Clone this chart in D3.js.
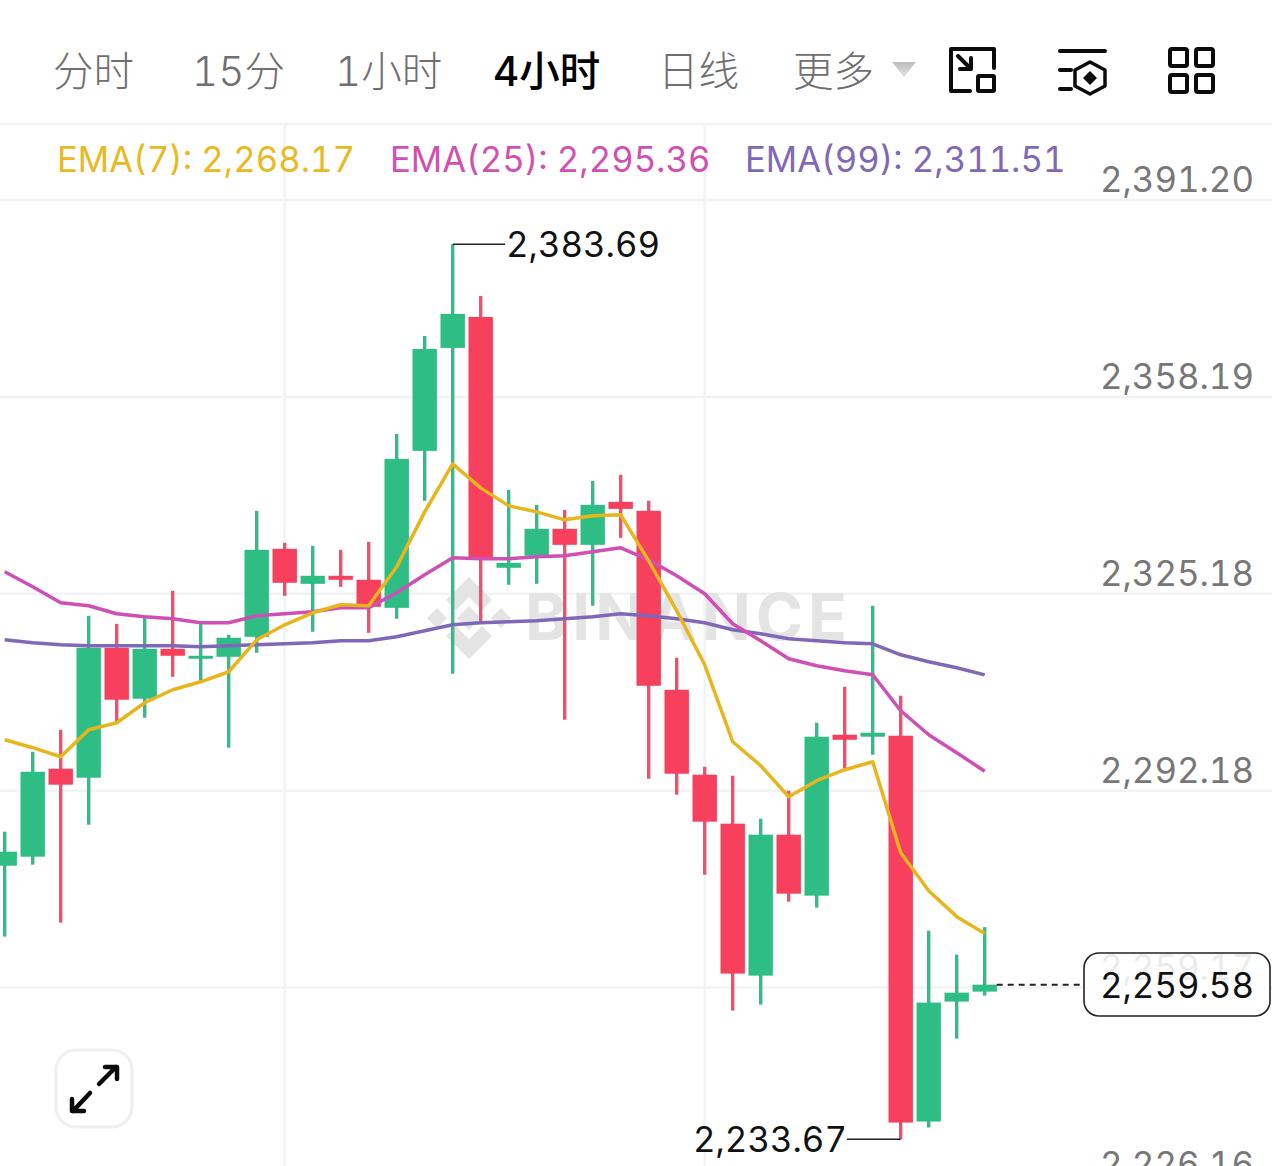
<!DOCTYPE html>
<html>
<head>
<meta charset="utf-8">
<script src="https://cdn.jsdelivr.net/npm/d3@7/dist/d3.min.js"></script>
<style>
html,body{margin:0;padding:0;background:#fff;overflow:hidden}
svg{display:block}
text{font-family:"Inter","Noto Sans CJK SC",sans-serif;font-variant-numeric:tabular-nums;font-feature-settings:"tnum" 1}
</style>
</head>
<body>
<div id="chart"></div>
<script>
const tabs = ["分时","15分","1小时","4小时","日线","更多"];
const activeTab = "4小时";
const tickPrices = [2391.20,2358.19,2325.18,2292.18,2259.17,2226.16];
const highs = [2285.22,2298.62,2302.31,2321.41,2320.07,2321.08,2325.60,2320.07,2318.23,2339.01,2333.64,2333.14,2332.47,2333.81,2351.91,2368.33,2383.69,2375.03,2342.53,2340.01,2339.17,2344.03,2345.04,2340.68,2314.38,2296.11,2294.60,2287.40,2292.09,2303.48,2309.52,2323.09,2308.01,2268.63,2264.61,2269.22];
const lows = [2267.63,2279.69,2269.97,2286.39,2303.65,2304.32,2311.19,2310.35,2299.30,2315.21,2324.76,2318.73,2326.27,2318.56,2320.91,2340.68,2311.69,2320.24,2326.61,2326.77,2303.99,2323.09,2334.48,2294.10,2291.42,2278.01,2255.23,2256.23,2273.49,2272.49,2295.61,2298.12,2233.67,2235.63,2250.54,2257.74];
const opens = [2279.52,2281.03,2295.78,2294.27,2316.05,2307.51,2315.88,2314.21,2314.54,2317.89,2332.64,2326.77,2328.12,2327.45,2322.75,2349.06,2366.32,2371.51,2329.46,2331.47,2335.99,2333.31,2340.51,2339.01,2309.01,2294.77,2286.56,2261.09,2284.72,2274.50,2301.47,2301.14,2301.31,2236.63,2256.74,2258.41];
const closes = [2281.87,2295.27,2293.10,2316.05,2307.34,2315.88,2314.71,2314.71,2317.73,2332.47,2326.94,2328.12,2327.45,2322.92,2347.72,2366.15,2372.02,2330.80,2330.29,2335.99,2333.31,2340.01,2339.34,2309.68,2294.94,2286.90,2261.43,2284.72,2274.83,2301.14,2300.63,2301.81,2236.46,2256.57,2258.24,2259.58];
const ema7 = [2300.63,2299.30,2297.79,2302.31,2303.48,2306.84,2309.01,2310.35,2312.03,2317.39,2319.90,2321.92,2323.26,2323.09,2329.62,2338.84,2346.88,2342.86,2339.84,2338.84,2337.50,2338.17,2338.34,2330.63,2322.25,2313.20,2300.30,2296.28,2291.08,2293.77,2295.61,2296.95,2281.70,2275.33,2270.98,2268.17];
const ema25 = [2328.79,2326.27,2323.59,2323.09,2321.75,2321.24,2320.91,2320.24,2320.24,2321.41,2321.75,2322.08,2322.75,2322.75,2325.27,2328.28,2331.13,2330.96,2330.96,2331.30,2331.47,2332.14,2332.81,2330.80,2328.12,2325.10,2320.07,2317.22,2314.21,2313.04,2312.20,2311.53,2305.49,2301.47,2298.46,2295.36];
const ema99 = [2317.39,2316.89,2316.55,2316.39,2316.39,2316.39,2316.39,2316.22,2316.39,2316.55,2316.72,2316.89,2317.22,2317.22,2317.89,2318.90,2319.90,2320.24,2320.41,2320.58,2320.91,2321.24,2321.75,2321.41,2320.91,2320.24,2319.07,2318.40,2317.56,2317.22,2316.89,2316.72,2314.88,2313.71,2312.70,2311.51];
const verticalGridIndex = [10,25];
const lastPrice = 2259.58, maxPrice = 2383.69, minPrice = 2233.67;

const fmt = d3.format(",.2f");
const svg = d3.select("#chart").append("svg").attr("width",1272).attr("height",1166);
const x = d3.scaleLinear().domain([0,35]).range([4.7,984.7]);
const y = d3.scaleLinear().domain([2391.20,2226.16]).range([199.5,1184]);
const GRID = "#f2f3f4", GREEN="#2ebd85", RED="#f6405e", GREENW="#3cb68c", REDW="#e2566f";

// header rule + grids
svg.append("rect").attr("x",0).attr("y",122.5).attr("width",1272).attr("height",3).attr("fill",GRID);
const gridG = svg.append("g").call(d3.axisRight(y).tickValues(tickPrices).tickSize(1272).tickFormat(""));
gridG.select(".domain").remove();
gridG.selectAll("line").attr("stroke",GRID).attr("stroke-width",2.5);
svg.append("g").selectAll("line").data(verticalGridIndex).join("line")
  .attr("x1",d=>x(d)).attr("x2",d=>x(d)).attr("y1",124).attr("y2",1166)
  .attr("stroke",GRID).attr("stroke-width",2.5);

// tabs
const tabX = [53,192,335,493,658,793];
svg.append("g").selectAll("text").data(tabs).join("text")
  .attr("x",(d,i)=>tabX[i]).attr("y",86)
  .attr("font-size",40.5)
  .attr("font-weight",d=>d===activeTab?500:300)
  .attr("fill",d=>d===activeTab?"#000":"#6f6f6f")
  .text(d=>d);
const grad = svg.append("defs").append("linearGradient").attr("id","tri").attr("x1",0).attr("x2",0).attr("y1",0).attr("y2",1);
grad.append("stop").attr("offset",0).attr("stop-color","#bdbdbd");
grad.append("stop").attr("offset",1).attr("stop-color","#e4e4e4");
svg.append("path").attr("d","M892,62L916,62L904,77Z").attr("fill","url(#tri)");

// header icons
const ic = svg.append("g").attr("fill","none").attr("stroke","#0b0b0b").attr("stroke-width",4).attr("stroke-linecap","round").attr("stroke-linejoin","round");
ic.append("path").attr("d","M994,68V49H951V91H970");
ic.append("rect").attr("x",978).attr("y",76).attr("width",16).attr("height",15).attr("rx",1);
ic.append("path").attr("d","M958,56L971,69M971,58V69H960");
ic.append("path").attr("d","M1060,51H1105M1060,70H1071M1060,89H1071");
ic.append("path").attr("d","M1090,62L1105,70V86L1090,94L1075,86V70Z").attr("stroke-width",3.5);
svg.append("path").attr("d","M1090,71L1097,78L1090,85L1083,78Z").attr("fill","#0b0b0b");
[[1170,49],[1196,49],[1170,75],[1196,75]].forEach(p=>{
  ic.append("rect").attr("x",p[0]).attr("y",p[1]).attr("width",17).attr("height",17).attr("rx",2);
});

// legend
const legend = [
  {label:"EMA(7): ",value:ema7[35],color:"#e8b923",x:57},
  {label:"EMA(25): ",value:ema25[35],color:"#d24fb2",x:390},
  {label:"EMA(99): ",value:ema99[35],color:"#8168b6",x:745}
];
svg.append("g").selectAll("text").data(legend).join("text")
  .attr("x",d=>d.x).attr("y",172).attr("font-size",34.7).attr("fill",d=>d.color)
  .text(d=>d.label+fmt(d.value));

// watermark
const wm = svg.append("g").attr("fill","#e4e4e4");
wm.append("path").attr("fill-rule","evenodd").attr("d",
 "M469,577L492,600L482,610L469,597L456,610L446,600Z"+
 "M469,659L446,636L456,626L469,639L482,626L492,636Z"+
 "M469,606L481,618L469,630L457,618Z"+
 "M437,608L447,618L437,628L427,618Z"+
 "M501,608L511,618L501,628L491,618Z");
wm.append("text").attr("x",525).attr("y",640).attr("font-size",64).attr("font-weight",700).attr("letter-spacing",5).text("BINANCE");

// candles
const idx = d3.range(highs.length);
const up = i => closes[i] >= opens[i];
svg.append("g").selectAll("line").data(idx).join("line")
  .attr("x1",i=>x(i)).attr("x2",i=>x(i))
  .attr("y1",i=>y(highs[i])).attr("y2",i=>y(lows[i]))
  .attr("stroke",i=>up(i)?GREENW:REDW).attr("stroke-width",3.4);
svg.append("g").selectAll("rect").data(idx).join("rect")
  .attr("x",i=>x(i)-12.2).attr("width",24.4)
  .attr("y",i=>y(Math.max(opens[i],closes[i])))
  .attr("height",i=>Math.max(1,Math.abs(y(opens[i])-y(closes[i]))))
  .attr("fill",i=>up(i)?GREEN:RED);

// EMA lines
const lineGen = d3.line().x((d,i)=>x(i)).y(d=>y(d));
[[ema99,"#8068b8"],[ema25,"#d04fb5"],[ema7,"#e8b51c"]].forEach(([s,c])=>{
  svg.append("path").attr("d",lineGen(s)).attr("fill","none").attr("stroke",c)
    .attr("stroke-width",3.5).attr("stroke-linejoin","round");
});

// axis labels
const axisG = svg.append("g").attr("transform","translate(1254,-19)")
  .call(d3.axisLeft(y).tickValues(tickPrices).tickSize(0).tickFormat(fmt));
axisG.select(".domain").remove();
axisG.selectAll("text").attr("x",0).attr("fill","#777").attr("font-size",34.8).attr("text-anchor","end").style("font-family",'"Inter"');

// extreme annotations
const hiI = highs.indexOf(maxPrice), loI = lows.indexOf(minPrice);
svg.append("line").attr("x1",x(hiI)).attr("x2",505).attr("y1",y(maxPrice)).attr("y2",y(maxPrice)).attr("stroke","#222").attr("stroke-width",1.5);
svg.append("text").attr("x",506).attr("y",y(maxPrice)+13).attr("font-size",34.8).attr("fill","#111").text(fmt(maxPrice));
svg.append("line").attr("x1",847).attr("x2",x(loI)).attr("y1",y(minPrice)).attr("y2",y(minPrice)).attr("stroke","#222").attr("stroke-width",1.5);
svg.append("text").attr("x",847).attr("y",y(minPrice)+13).attr("text-anchor","end").attr("font-size",34.8).attr("fill","#111").text(fmt(minPrice));

// last price
svg.append("line").attr("x1",x(35)+12).attr("x2",1084).attr("y1",y(lastPrice)).attr("y2",y(lastPrice))
  .attr("stroke","#222").attr("stroke-width",2).attr("stroke-dasharray","6 5");
svg.append("rect").attr("x",1084).attr("y",953).attr("width",186).attr("height",63).attr("rx",15)
  .attr("fill","#fff").attr("fill-opacity",0.85).attr("stroke","#222").attr("stroke-width",1.6);
svg.append("text").attr("x",1254).attr("y",y(lastPrice)+13).attr("text-anchor","end").attr("font-size",34.8).attr("fill","#111").text(fmt(lastPrice));

// expand button
svg.append("rect").attr("x",56).attr("y",1050).attr("width",76).attr("height",77).attr("rx",20).attr("fill","#fff").attr("stroke","#efefef").attr("stroke-width",3);
svg.append("path").attr("d","M99,1084L116,1067M105,1067H117V1079M90,1093L73,1111M72,1099V1111H84")
  .attr("fill","none").attr("stroke","#0b0b0b").attr("stroke-width",4.5).attr("stroke-linecap","round").attr("stroke-linejoin","round");
</script>
</body>
</html>
